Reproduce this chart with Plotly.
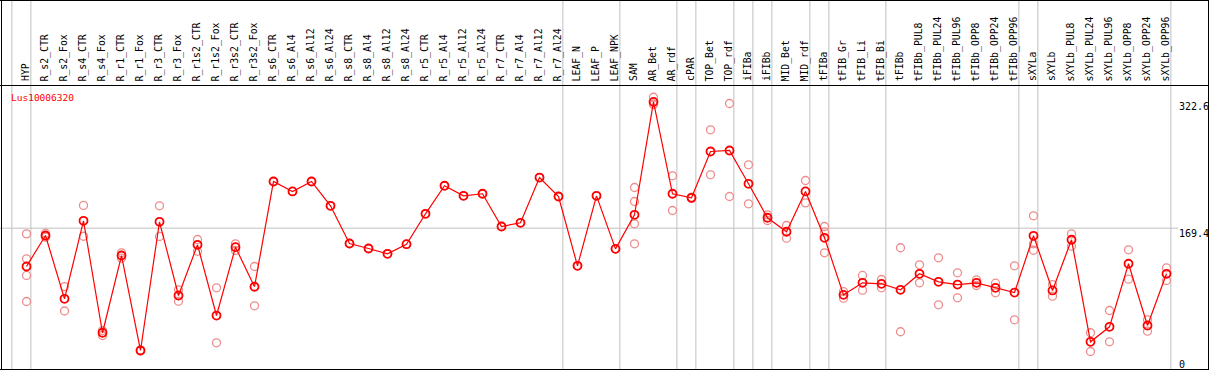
import plotly.graph_objects as go

W, H = 1209, 370

categories = ["HYP", "R_s2_CTR", "R_s2_Fox", "R_s4_CTR", "R_s4_Fox", "R_r1_CTR", "R_r1_Fox",
              "R_r3_CTR", "R_r3_Fox", "R_r1s2_CTR", "R_r1s2_Fox", "R_r3s2_CTR", "R_r3s2_Fox",
              "R_s6_CTR", "R_s6_Al4", "R_s6_Al12", "R_s6_Al24", "R_s8_CTR", "R_s8_Al4",
              "R_s8_Al12", "R_s8_Al24", "R_r5_CTR", "R_r5_Al4", "R_r5_Al12", "R_r5_Al24",
              "R_r7_CTR", "R_r7_Al4", "R_r7_Al12", "R_r7_Al24", "LEAF_N", "LEAF_P", "LEAF_NPK",
              "SAM", "AR_Bet", "AR_rdf", "cPAR", "TOP_Bet", "TOP_rdf", "iFIBa", "iFIBb",
              "MID_Bet", "MID_rdf", "tFIBa", "tFIB_Gr", "tFIB_Li", "tFIB_Bi", "tFIBb",
              "tFIBb_PUL8", "tFIBb_PUL24", "tFIBb_PUL96", "tFIBb_OPP8", "tFIBb_OPP24",
              "tFIBb_OPP96", "sXYLa", "sXYLb", "sXYLb_PUL8", "sXYLb_PUL24", "sXYLb_PUL96",
              "sXYLb_OPP8", "sXYLb_OPP24", "sXYLb_OPP96"]

mean_values = [122.9, 160.5, 83.7, 178.3, 42.5, 136.2, 21.0, 177.1, 87.7, 149.2, 63.4, 146.3, 98.3,
               226.0, 213.9, 226.0, 196.5, 150.8, 144.7, 138.3, 149.9, 186.8, 220.8, 208.6, 211.1,
               171.4, 175.9, 230.8, 207.8, 123.7, 208.6, 144.3,
               185.6, 322.6, 211.1, 206.2, 262.4, 263.6, 223.2, 182.0, 165.0, 213.9, 157.7,
               88.5, 103.1, 101.9, 94.6, 114.0, 104.3, 101.0, 103.1, 97.0, 91.3,
               160.1, 93.8, 155.3, 31.5, 49.7, 126.2, 51.3, 114.0]

replicate_values = [
    [162.5, 132.2, 112.0, 80.4], [163.3, 158.4, 159.8], [98.5, 68.9], [197.0, 159.6], [45.2, 39.2],
    [139.5, 133.0], [21.5, 20.5], [196.5, 159.3], [94.6, 80.8], [155.6, 141.4], [97.0, 30.3],
    [150.4, 142.3], [122.9, 75.2],
    [226.0], [213.9], [226.0], [196.5], [150.8], [144.7], [138.3], [149.9], [186.8], [220.8],
    [208.6], [211.1], [171.4], [175.9], [230.8], [207.8], [123.7], [208.6], [144.3],
    [218.7, 201.7, 174.7, 150.4], [328.2, 319.4, 320.2], [232.9, 190.8], [205.5, 207.0],
    [288.7, 234.1], [320.6, 207.8], [246.2, 198.9], [185.6, 178.7], [172.6, 157.2],
    [227.2, 200.1], [171.4, 164.5, 139.5], [92.5, 84.5], [112.0, 94.1], [107.1, 97.0],
    [145.6, 43.7], [124.9, 103.1], [133.4, 76.4], [115.2, 84.9], [106.7, 99.8], [102.6, 91.0],
    [123.7, 58.2], [184.4, 150.4, 142.6], [101.0, 86.9], [162.5, 147.5], [42.5, 19.8],
    [69.5, 31.5], [143.1, 107.5], [58.2, 44.4], [121.3, 105.9]]

group_starts = ["HYP", "R_s2_CTR", "LEAF_N", "SAM", "cPAR", "TOP_Bet", "iFIBa", "iFIBb",
                "MID_Bet", "tFIBa", "tFIB_Gr", "tFIBb", "sXYLa", "sXYLb"]

axis_values = [0, 169.4, 322.6]
axis_labels = ["0", "169.4", "322.6"]
gene_name = "Lus10006320"

# pixel geometry helpers
X0, DX = 26.5, 19.0          # pixel of first category, spacing
Y0, DY = 367.8, 0.8244       # pixel of value 0, px per unit
x_range = [-X0 / DX, (W - X0) / DX]
y_range = [(Y0 - H) / DY, Y0 / DY]

def px_x(p):
    return p / W

def px_y(p):
    return (H - p) / H

idx = list(range(len(categories)))
fig = go.Figure()

# replicates
rx, ry = [], []
for i, reps in enumerate(replicate_values):
    for v in reps:
        rx.append(i)
        ry.append(v)
fig.add_trace(go.Scatter(x=rx, y=ry, mode="markers",
                         marker=dict(symbol="circle-open", size=8, color="#ee8c8c",
                                     line=dict(width=1.3)),
                         hoverinfo="skip", showlegend=False))
# means
fig.add_trace(go.Scatter(x=idx, y=mean_values, mode="lines+markers",
                         line=dict(color="#ff0000", width=1.2),
                         marker=dict(symbol="circle-open", size=8, color="#ff0000",
                                     line=dict(width=1.8)),
                         text=categories, hovertemplate="%{text}: %{y}<extra></extra>",
                         showlegend=False))

shapes = []
gray = "#c0c0c0"
# group separators
for name in group_starts:
    xi = categories.index(name) - 0.77
    shapes.append(dict(type="line", xref="x", yref="paper", x0=xi, x1=xi, y0=0, y1=1,
                       line=dict(color=gray, width=1), layer="below"))
end_x = len(categories) - 0.77
shapes.append(dict(type="line", xref="x", yref="paper", x0=end_x, x1=end_x, y0=0, y1=1,
                   line=dict(color=gray, width=1), layer="below"))
# horizontal grid at middle value
shapes.append(dict(type="line", xref="paper", yref="y", x0=0, x1=px_x(1178),
                   y0=axis_values[1], y1=axis_values[1], line=dict(color=gray, width=1),
                   layer="below"))
# frame
black = "#000000"
for (a, b, c, d) in [(1.5, 0.5, 1.5, 369.5), (1208.5, 0.5, 1208.5, 369.5),
                     (0, 0.5, W, 0.5), (0, 369.5, W, 369.5), (0, 85.5, W, 85.5)]:
    shapes.append(dict(type="line", xref="paper", yref="paper", x0=px_x(a), x1=px_x(c),
                       y0=px_y(b), y1=px_y(d), line=dict(color=black, width=1)))

annotations = []
mono = "DejaVu Sans Mono"
for i, name in enumerate(categories):
    annotations.append(dict(x=i, y=px_y(83.5), xref="x", yref="paper", text=name,
                            textangle=-90, showarrow=False, xanchor="center", yanchor="bottom",
                            xshift=-1,
                            font=dict(family=mono, size=9.8, color="black")))
annotations.append(dict(x=px_x(9), y=px_y(97), xref="paper", yref="paper", text=gene_name,
                        showarrow=False, xanchor="left", yanchor="middle",
                        font=dict(family=mono, size=9.5, color="#ff0000")))
for v, lab in zip(axis_values, axis_labels):
    yp = Y0 - DY * v + 5
    yp = min(yp, 364)
    annotations.append(dict(x=px_x(1177), y=px_y(yp), xref="paper", yref="paper", text=lab,
                            showarrow=False, xanchor="left", yanchor="middle",
                            font=dict(family=mono, size=10, color="black")))

fig.update_layout(
    width=W, height=H, autosize=False,
    margin=dict(l=0, r=0, t=0, b=0, pad=0),
    paper_bgcolor="white", plot_bgcolor="white",
    xaxis=dict(range=x_range, visible=False, fixedrange=True),
    yaxis=dict(range=y_range, visible=False, fixedrange=True),
    shapes=shapes, annotations=annotations,
)

fig.write_html("out.html", config={"displayModeBar": False},
               post_script="document.body.style.margin='0';document.body.style.overflow='hidden';")
